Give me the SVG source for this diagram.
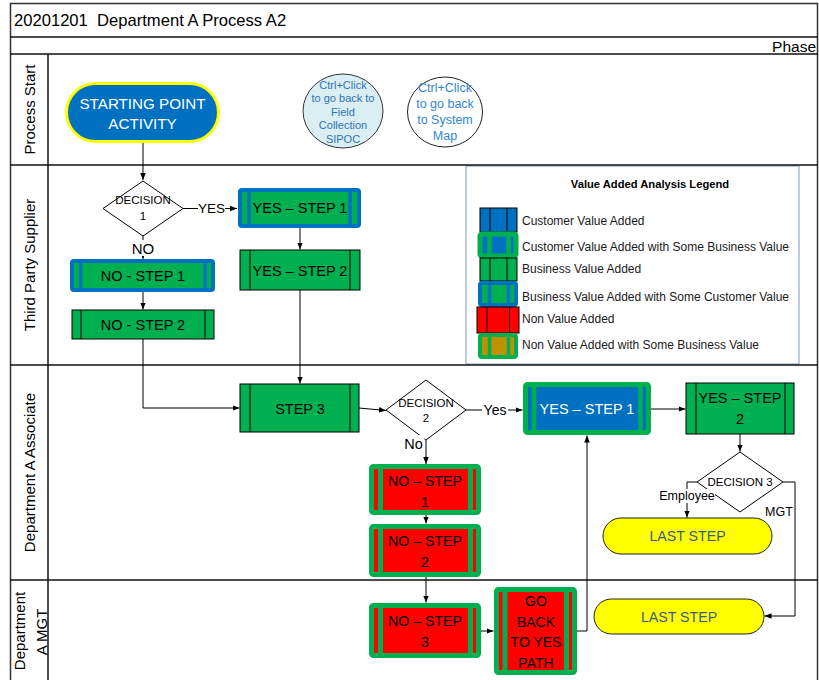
<svg xmlns="http://www.w3.org/2000/svg" width="819" height="680" viewBox="0 0 819 680">
<defs>
<marker id="arr" viewBox="0 0 10 10" refX="10" refY="5" markerWidth="7" markerHeight="7" orient="auto" markerUnits="userSpaceOnUse"><path d="M0,1 L10,5 L0,9 z" fill="#000"/></marker>
<style>
text{font-family:"Liberation Sans",Arial,sans-serif;fill:#000}
.c{text-anchor:middle;dominant-baseline:central}
.frame{fill:none;stroke:#333;stroke-width:1.5}
.lane{stroke:#111;stroke-width:1.5}
.bva rect{fill:#00B050;stroke:#000;stroke-width:1}
.bva line{stroke:#000;stroke-width:1}
.cva rect{fill:#0070C0;stroke:#000;stroke-width:1}
.cva line{stroke:#000;stroke-width:1}
.bvc rect{fill:#00B050;stroke:#0070C0;stroke-width:4}
.bvc line{stroke:#0070C0;stroke-width:3.5}
.cvb rect{fill:#0070C0;stroke:#00B050;stroke-width:5}
.cvb line{stroke:#00B050;stroke-width:4.5}
.nvb rect{fill:#FF0000;stroke:#00B050;stroke-width:5}
.nvb line{stroke:#00B050;stroke-width:5}
.nva rect{fill:#FF0000;stroke:#000;stroke-width:1}
.nva line{stroke:#000;stroke-width:1}
.nvbb rect{fill:#BF9000;stroke:#00B050;stroke-width:4}
.nvbb line{stroke:#00B050;stroke-width:3.5}
.dec{fill:#fff;stroke:#000;stroke-width:1}
.last{fill:#FFFF00;stroke:#222;stroke-width:1}
.lt{font-size:14.2px;fill:#3B5C7A}
.n14{font-size:14.5px}
.w{fill:#fff}
.conn path{fill:none;stroke:#000;stroke-width:1;marker-end:url(#arr)}
.lab{fill:#fff;stroke:none}
.leg{font-size:12px;fill:#1a1a1a}
.lane-t{font-size:15px}
</style>
</defs>
<rect x="0" y="0" width="819" height="680" fill="#fff"/>

<g id="frame">
<rect class="frame" x="10.5" y="3.5" width="807" height="680"/>
<line class="lane" x1="10" y1="37" x2="818" y2="37"/>
<line class="lane" x1="10" y1="54" x2="818" y2="54"/>
<line class="lane" x1="48" y1="54" x2="48" y2="680"/>
<text x="14" y="26" style="font-size:16.6px;white-space:pre" xml:space="preserve">20201201  Department A Process A2</text>
<text x="816" y="51.5" style="font-size:15.5px;text-anchor:end">Phase</text>
</g>

<g id="legend">
<rect x="466" y="166" width="333" height="198" fill="#fff" stroke="#7F95C0" stroke-width="1"/>
<text class="c" x="650" y="184" style="font-size:11.2px;font-weight:bold">Value Added Analysis Legend</text>
<g class="cva"><rect x="480" y="208" width="37" height="24"/><line x1="490" y1="208" x2="490" y2="232"/><line x1="507" y1="208" x2="507" y2="232"/></g>
<g class="cvb"><rect x="480" y="234" width="36" height="22" rx="2"/><line x1="489.5" y1="234" x2="489.5" y2="256"/><line x1="508.5" y1="234" x2="508.5" y2="256"/></g>
<g class="bva"><rect x="480" y="258" width="37" height="23"/><line x1="490" y1="258" x2="490" y2="281"/><line x1="507" y1="258" x2="507" y2="281"/></g>
<g class="bvc"><rect x="480" y="283" width="36" height="22" rx="2"/><line x1="489.5" y1="283" x2="489.5" y2="305"/><line x1="508.5" y1="283" x2="508.5" y2="305"/></g>
<g class="nva"><rect x="477" y="307" width="42" height="26"/><line x1="487" y1="307" x2="487" y2="333"/><line x1="509.5" y1="307" x2="509.5" y2="333"/></g>
<g class="nvbb"><rect x="480" y="335" width="36" height="22" rx="2"/><line x1="489.5" y1="335" x2="489.5" y2="357"/><line x1="508.5" y1="335" x2="508.5" y2="357"/></g>
<text class="leg" x="522" y="221" dominant-baseline="central">Customer Value Added</text>
<text class="leg" x="522" y="247" dominant-baseline="central">Customer Value Added with Some Business Value</text>
<text class="leg" x="522" y="269" dominant-baseline="central">Business Value Added</text>
<text class="leg" x="522" y="297" dominant-baseline="central">Business Value Added with Some Customer Value</text>
<text class="leg" x="522" y="319" dominant-baseline="central">Non Value Added</text>
<text class="leg" x="522" y="345" dominant-baseline="central">Non Value Added with Some Business Value</text>
</g>

<g id="lanes">
<line class="lane" x1="10" y1="165" x2="818" y2="165"/>
<line class="lane" x1="10" y1="365" x2="818" y2="365"/>
<line class="lane" x1="10" y1="580" x2="818" y2="580"/>
<text class="c lane-t" x="29" y="109.5" transform="rotate(-90 29 109.5)">Process Start</text>
<text class="c lane-t" x="29" y="265" transform="rotate(-90 29 265)">Third Party Supplier</text>
<text class="c lane-t" x="29" y="472.5" transform="rotate(-90 29 472.5)">Department A Associate</text>
<text class="c lane-t" x="19" y="631" transform="rotate(-90 19 631)">Department</text>
<text class="c lane-t" x="41" y="632" transform="rotate(-90 41 632)">A MGT</text>
</g>

<g id="start">
<rect x="66.5" y="83.5" width="152" height="58" rx="29" fill="#0070C0" stroke="#FFFF00" stroke-width="3"/>
<text class="c w" x="142.5" y="103" style="font-size:15.2px">STARTING POINT</text>
<text class="c w" x="142.5" y="123" style="font-size:15.2px">ACTIVITY</text>
</g>

<g id="link-sipoc">
<ellipse cx="343" cy="111" rx="40" ry="37" fill="#DAEEF3" stroke="#333" stroke-width="1"/>
<text class="c" x="343" y="84.5" style="font-size:11px;fill:#2E74B5">Ctrl+Click</text>
<text class="c" x="343" y="98" style="font-size:11px;fill:#2E74B5">to go back to</text>
<text class="c" x="343" y="111.5" style="font-size:11px;fill:#2E74B5">Field</text>
<text class="c" x="343" y="125" style="font-size:11px;fill:#2E74B5">Collection</text>
<text class="c" x="343" y="138.5" style="font-size:11px;fill:#2E74B5">SIPOC</text>
</g>

<g id="link-map">
<ellipse cx="445" cy="112" rx="37.5" ry="35" fill="#fff" stroke="#222" stroke-width="1"/>
<text class="c" x="445" y="88" style="font-size:12.5px;fill:#2F86D6">Ctrl+Click</text>
<text class="c" x="445" y="104" style="font-size:12.5px;fill:#2F86D6">to go back</text>
<text class="c" x="445" y="120" style="font-size:12.5px;fill:#2F86D6">to System</text>
<text class="c" x="445" y="136" style="font-size:12.5px;fill:#2F86D6">Map</text>
</g>

<g id="decision1">
<polygon class="dec" points="143,181 183,208.5 143,236 103,208.5"/>
<text class="c" x="143" y="200" style="font-size:11.5px">DECISION</text>
<text class="c" x="143" y="216" style="font-size:11.5px">1</text>
</g>

<g id="tps-yes-step1" class="bvc">
<rect x="240" y="190" width="119" height="36" rx="2"/>
<line x1="249" y1="190" x2="249" y2="226"/><line x1="350" y1="190" x2="350" y2="226"/>
<text class="c n14" x="300" y="208">YES – STEP 1</text>
</g>

<g id="tps-yes-step2" class="bva">
<rect x="240" y="250" width="120" height="40"/>
<line x1="250" y1="250" x2="250" y2="290"/><line x1="350" y1="250" x2="350" y2="290"/>
<text class="c n14" x="300" y="270.5">YES – STEP 2</text>
</g>

<g id="tps-no-step1" class="bvc">
<rect x="72" y="261" width="141" height="29" rx="2"/>
<line x1="80.5" y1="261" x2="80.5" y2="290"/><line x1="205" y1="261" x2="205" y2="290"/>
<text class="c n14" x="143" y="276">NO - STEP 1</text>
</g>

<g id="tps-no-step2" class="bva">
<rect x="72" y="310" width="142" height="29"/>
<line x1="81" y1="310" x2="81" y2="339"/><line x1="205" y1="310" x2="205" y2="339"/>
<text class="c n14" x="143" y="325">NO - STEP 2</text>
</g>

<g id="step3" class="bva">
<rect x="240" y="384" width="119" height="48"/>
<line x1="250" y1="384" x2="250" y2="432"/><line x1="350" y1="384" x2="350" y2="432"/>
<text class="c n14" x="300" y="408.5">STEP 3</text>
</g>

<g id="decision2">
<polygon class="dec" points="426,380 466,410 426,440 386,410"/>
<text class="c" x="426" y="402.5" style="font-size:11.5px">DECISION</text>
<text class="c" x="426" y="418" style="font-size:11.5px">2</text>
</g>

<g id="assoc-yes-step1" class="cvb">
<rect x="525.5" y="384.5" width="123" height="48" rx="2"/>
<line x1="534" y1="384.5" x2="534" y2="432.5"/><line x1="640.5" y1="384.5" x2="640.5" y2="432.5"/>
<text class="c n14 w" x="587" y="409">YES – STEP 1</text>
</g>

<g id="assoc-yes-step2" class="bva">
<rect x="686" y="383" width="108" height="51"/>
<line x1="696" y1="383" x2="696" y2="434"/><line x1="785" y1="383" x2="785" y2="434"/>
<text class="c n14" x="740" y="397.5">YES – STEP</text>
<text class="c n14" x="740" y="419">2</text>
</g>

<g id="decision3">
<polygon class="dec" points="740,452 783,482 740,512 697,482"/>
<text class="c" x="740" y="482" style="font-size:11.5px">DECISION 3</text>
</g>

<g id="assoc-last-step">
<rect class="last" x="603" y="518" width="169" height="36" rx="18"/>
<text class="c lt" x="687.5" y="536">LAST STEP</text>
</g>

<g id="mgt-last-step">
<rect class="last" x="594" y="599" width="170" height="35" rx="17.5"/>
<text class="c lt" x="679" y="617">LAST STEP</text>
</g>

<g id="assoc-no-step1" class="nvb">
<rect x="371.5" y="466.5" width="107" height="46" rx="2"/>
<line x1="380.5" y1="466.5" x2="380.5" y2="512.5"/><line x1="470.5" y1="466.5" x2="470.5" y2="512.5"/>
<text class="c" x="425" y="480.5" style="font-size:14.2px">NO – STEP</text>
<text class="c" x="425" y="501.5" style="font-size:14.2px">1</text>
</g>

<g id="assoc-no-step2" class="nvb">
<rect x="371.5" y="526.5" width="107" height="48" rx="2"/>
<line x1="380.5" y1="526.5" x2="380.5" y2="574.5"/><line x1="470.5" y1="526.5" x2="470.5" y2="574.5"/>
<text class="c" x="425" y="541" style="font-size:14.2px">NO – STEP</text>
<text class="c" x="425" y="562" style="font-size:14.2px">2</text>
</g>

<g id="mgt-no-step3" class="nvb">
<rect x="371.5" y="605.5" width="107" height="50" rx="2"/>
<line x1="380.5" y1="605.5" x2="380.5" y2="655.5"/><line x1="470.5" y1="605.5" x2="470.5" y2="655.5"/>
<text class="c" x="425" y="621" style="font-size:14.2px">NO – STEP</text>
<text class="c" x="425" y="642" style="font-size:14.2px">3</text>
</g>

<g id="mgt-go-back" class="nvb">
<rect x="496.5" y="589.5" width="78" height="83" rx="2"/>
<line x1="505" y1="589.5" x2="505" y2="672.5"/><line x1="566.5" y1="589.5" x2="566.5" y2="672.5"/>
<text class="c" x="536" y="601" style="font-size:14px">GO</text>
<text class="c" x="536" y="621.5" style="font-size:14px">BACK</text>
<text class="c" x="536" y="642" style="font-size:14px">TO YES</text>
<text class="c" x="536" y="662.5" style="font-size:14px">PATH</text>
</g>

<g id="connectors" class="conn">
<path d="M143,143 V180"/>
<path d="M183,208.5 H237"/>
<rect class="lab" x="198" y="200" width="27" height="17"/>
<text class="c" x="211.5" y="208.5" style="font-size:13.5px">YES</text>
<path d="M143,236 V259"/>
<rect class="lab" x="130" y="240" width="26" height="16"/>
<text class="c" x="143" y="248" style="font-size:15px">NO</text>
<path d="M143,292 V309.5"/>
<path d="M300,228 V249.5"/>
<path d="M143,339 V408 H239.5"/>
<path d="M300,290 V383.5"/>
<path d="M359,408 L386,410.5"/>
<path d="M466,410 H522.5"/>
<rect class="lab" x="482" y="401" width="26" height="17"/>
<text class="c" x="495" y="409.5" style="font-size:14px">Yes</text>
<path d="M426,440 V464"/>
<rect class="lab" x="401" y="435" width="23.5" height="17"/>
<text class="c" x="413.5" y="444" style="font-size:14.5px">No</text>
<path d="M426,515 V523.5"/>
<path d="M426,577 V602.5"/>
<path d="M481,631 H493.5"/>
<path d="M577,631 H587 V435.5"/>
<path d="M651,409 H685.5"/>
<path d="M740,434 V451.5"/>
<path d="M697,482 H687 V517.5"/>
<rect class="lab" x="659" y="489" width="56" height="14"/>
<text class="c" x="687" y="496" style="font-size:12.5px">Employee</text>
<path d="M783,482 H795 V616 H764.5"/>
<text class="c" x="779" y="512" style="font-size:12.5px">MGT</text>
</g>
</svg>
